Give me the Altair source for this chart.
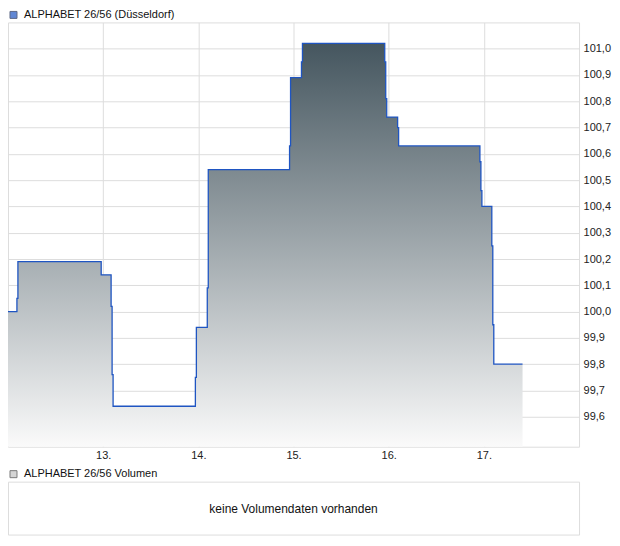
import altair as alt
import pandas as pd

SERIES_NAME = "ALPHABET 26/56 (Düsseldorf)"
VOLUME_NAME = "ALPHABET 26/56 Volumen"
NO_VOLUME_TEXT = "keine Volumendaten vorhanden"

times = [
    "2025-01-12 00:00", "2025-01-12 02:15", "2025-01-12 02:30", "2025-01-12 23:30",
    "2025-01-13 02:00", "2025-01-13 02:15", "2025-01-13 02:30", "2025-01-13 23:15",
    "2025-01-13 23:30", "2025-01-14 02:15", "2025-01-14 02:30", "2025-01-14 23:00",
    "2025-01-14 23:15", "2025-01-15 02:00", "2025-01-15 02:15", "2025-01-15 23:00",
    "2025-01-15 23:15", "2025-01-15 23:30", "2025-01-16 02:15", "2025-01-16 02:30",
    "2025-01-16 23:00", "2025-01-16 23:15", "2025-01-16 23:30", "2025-01-17 02:00",
    "2025-01-17 02:15", "2025-01-17 02:30", "2025-01-17 09:45",
]
prices = [
    100.00, 100.05, 100.19, 100.14,
    100.02, 99.76, 99.64, 99.75,
    99.94, 100.09, 100.54, 100.63,
    100.89, 100.95, 101.02, 100.95,
    100.81, 100.74, 100.70, 100.63,
    100.57, 100.46, 100.40, 100.25,
    99.95, 99.80, 99.80,
]
day_ticks = [13, 14, 15, 16, 17]
price_ticks = [99.6, 99.7, 99.8, 99.9, 100.0, 100.1, 100.2, 100.3, 100.4,
               100.5, 100.6, 100.7, 100.8, 100.9, 101.0]
volume_values = []  # no volume data available

FIRST_DAY = 12
start = pd.Timestamp("2025-01-12 00:00")
hours = [(pd.Timestamp(t) - start).total_seconds() / 3600 for t in times]
df = pd.DataFrame({"h": hours, "price": prices})

Y_MIN, Y_MAX = 99.486, 101.1
LINE_BLUE = "#1f55c2"
FONT = "Liberation Sans"
W = 572

x_enc = alt.X(
    "h:Q",
    scale=alt.Scale(domain=[0, 144], nice=False, zero=False),
    axis=alt.Axis(
        title=None, values=[(d - FIRST_DAY) * 24 for d in day_ticks],
        labelExpr=f"({FIRST_DAY} + datum.value / 24) + '.'",
        grid=True, ticks=False, domain=False, labelPadding=3,
        labelFontSize=11, labelColor="#222222", labelFont=FONT,
    ),
)
y_enc = alt.Y(
    "price:Q",
    scale=alt.Scale(domain=[Y_MIN, Y_MAX], nice=False, zero=False),
    axis=alt.Axis(
        title=None, orient="right", values=price_ticks,
        labelExpr="replace(format(datum.value, '.1f'), '.', ',')",
        grid=True, ticks=False, domain=False, labelPadding=4,
        labelFontSize=11, labelColor="#222222", labelFont=FONT,
    ),
)

gradient = alt.Gradient(
    gradient="linear",
    stops=[alt.GradientStop(color="#45565f", offset=0),
           alt.GradientStop(color="#fafafa", offset=1)],
    x1=0, x2=0, y1=0, y2=1,
)

area = alt.Chart(df).mark_area(interpolate="step-after", fill=gradient).encode(
    x=x_enc, y=y_enc, y2=alt.Y2Datum(Y_MIN)
)
line = alt.Chart(df).mark_line(interpolate="step-after", color=LINE_BLUE, strokeWidth=1.3).encode(
    x=x_enc, y=y_enc
)
main_legend = alt.Chart(alt.Data(values=[])).mark_square(
    filled=True, stroke="#1a2a55", strokeWidth=1
).encode(
    color=alt.Color(
        "s:N",
        scale=alt.Scale(domain=[SERIES_NAME], range=[LINE_BLUE]),
        legend=alt.Legend(
            title=None, orient="none", legendX=0, legendY=-13, padding=0,
            symbolType="square", symbolSize=49, symbolStrokeColor="#1a2a55",
            symbolStrokeWidth=1, labelFont=FONT, labelFontSize=11,
            labelColor="#111111", labelOffset=5,
        ),
    )
)
main = alt.layer(area, line, main_legend).properties(width=W, height=425)

vol_text = alt.Chart(pd.DataFrame({"t": [NO_VOLUME_TEXT]})).mark_text(
    font=FONT, fontSize=12, color="#111111", align="center", baseline="middle"
).encode(x=alt.value(W / 2), y=alt.value(27), text="t:N")
vol_legend = alt.Chart(alt.Data(values=volume_values)).mark_square(
    filled=True, stroke="#444444", strokeWidth=1
).encode(
    color=alt.Color(
        "v:N",
        scale=alt.Scale(domain=[VOLUME_NAME], range=["#c4c4c4"]),
        legend=alt.Legend(
            title=None, orient="none", legendX=0, legendY=-13, padding=0,
            symbolType="square", symbolSize=49, symbolStrokeColor="#444444",
            symbolStrokeWidth=1, labelFont=FONT, labelFontSize=11,
            labelColor="#111111", labelOffset=5,
        ),
    )
)
volume = alt.layer(vol_text, vol_legend).properties(width=W, height=53)

chart = alt.vconcat(main, volume, spacing=6).properties(
    padding={"left": -4, "top": 0, "right": 0, "bottom": 0}
).resolve_scale(color="independent").configure(font=FONT).configure_view(
    stroke="#dddddd", strokeWidth=1
).configure_axis(gridColor="#dddddd", gridWidth=1)

chart.save("out.html", embed_options={"renderer": "svg", "actions": False})
